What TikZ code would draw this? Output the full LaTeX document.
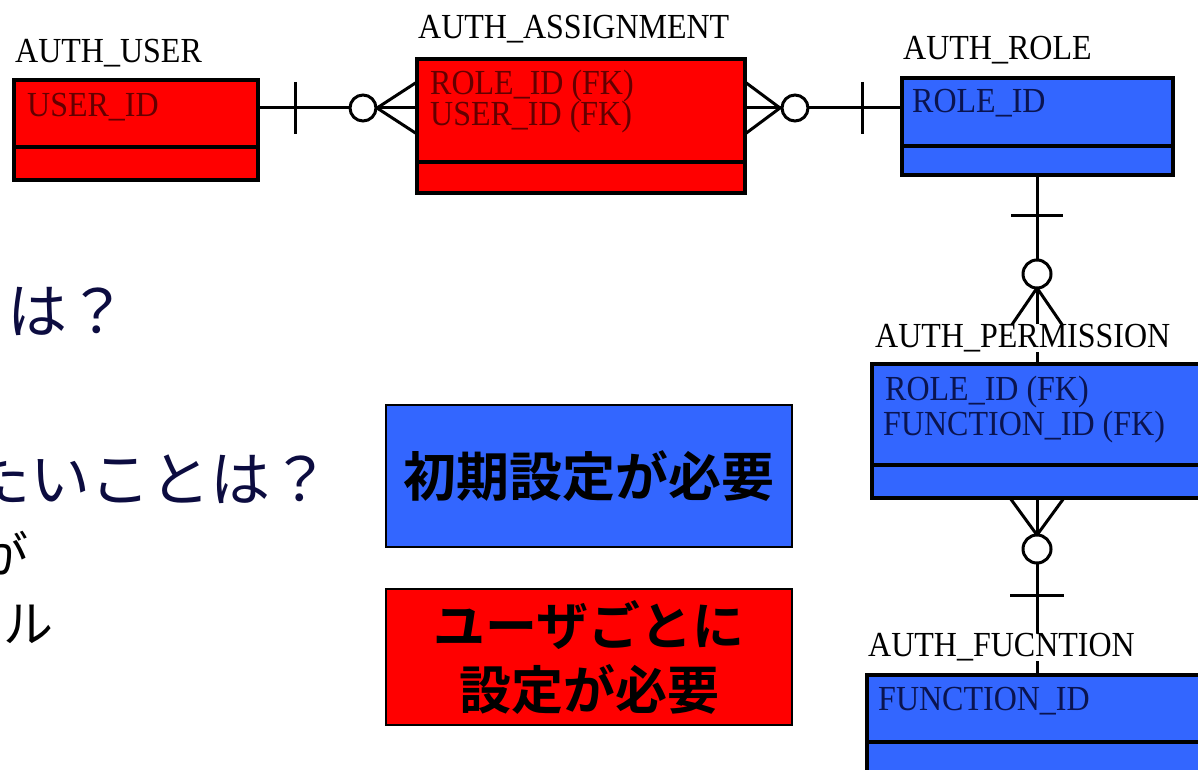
\documentclass[tikz,border=0pt]{standalone}
\usepackage{graphicx}
\usepackage{fontspec}
\setmainfont{Liberation Serif}
\newfontfamily\jp{Noto Sans CJK JP}[BoldFont={Noto Sans CJK JP Bold}]
\usetikzlibrary{calc}
\definecolor{erred}{RGB}{255,0,0}
\definecolor{erblue}{RGB}{51,102,255}
\definecolor{attred}{RGB}{100,0,0}
\definecolor{attblue}{RGB}{10,20,80}
\definecolor{navy}{RGB}{12,12,64}
\newcommand\ertxt{\fontsize{32}{34}\selectfont}
\newcommand\ers[1]{\scalebox{1}[1.1]{#1}}
\begin{document}
\begin{tikzpicture}[x=1pt,y=-1pt,
  ent/.style={draw=black, line width=3.5pt, rectangle, inner sep=0pt, outer sep=0pt, anchor=north west},
  entR/.style={ent, fill=erred},
  entB/.style={ent, fill=erblue},
  divl/.style={draw=black, line width=3.5pt},
  rel/.style={draw=black, line width=3pt},
  circ/.style={draw=black, line width=3pt, fill=white},
  lbl/.style={anchor=base west, inner sep=0pt, fill=white, font=\ertxt},
  attR/.style={anchor=base west, inner sep=0pt, font=\ertxt, text=attred},
  attB/.style={anchor=base west, inner sep=0pt, font=\ertxt, text=attblue},
  legend/.style={draw=black, line width=2pt, rectangle, inner sep=0pt},
  lefttxt/.style={inner sep=0pt, font=\jp\fontsize{60}{60}\selectfont, text=navy},
  smalltxt/.style={inner sep=0pt, font=\jp\fontsize{50}{50}\selectfont, text=black}
]
\useasboundingbox (0,0) rectangle (1198,770);
\clip (0,0) rectangle (1198,770);

% entity boxes
\node[entR, minimum width=244pt, minimum height=100pt] (user) at (14,80) {};
\node[entR, minimum width=328pt, minimum height=134pt] (assign) at (417,59) {};
\node[entB, minimum width=271pt, minimum height=97pt] (role) at (902,78) {};
\node[entB, minimum width=360pt, minimum height=134pt] (perm) at (872,364) {};
\node[entB, minimum width=360pt, minimum height=130pt] (func) at (867,675) {};

% dividers
\draw[divl] ([yshift=-67pt]user.north west) -- ([yshift=-67pt]user.north east);
\draw[divl] ([yshift=-103pt]assign.north west) -- ([yshift=-103pt]assign.north east);
\draw[divl] ([yshift=-68pt]role.north west) -- ([yshift=-68pt]role.north east);
\draw[divl] ([yshift=-101pt]perm.north west) -- ([yshift=-101pt]perm.north east);
\draw[divl] ([yshift=-67pt]func.north west) -- ([yshift=-67pt]func.north east);

% attributes
\node[attR] (a1) at (27,117) {\ers{USER\_ID}};
\node[attR] (a2) at (430,95) {\ers{ROLE\_ID (FK)}};
\node[attR] (a3) at (430,126) {\ers{USER\_ID (FK)}};
\node[attB] (a4) at (912,113) {\ers{ROLE\_ID}};
\node[attB] (a5) at (885,400) {\ers{ROLE\_ID (FK)}};
\node[attB] (a6) at (883,435) {\ers{FUNCTION\_ID (FK)}};
\node[attB] (a7) at (878,710) {\ers{FUNCTION\_ID}};

% relation USER - ASSIGNMENT
\coordinate (L1a) at ([yshift=-28pt]user.north east);
\coordinate (L1b) at ([yshift=-49pt]assign.north west);
\draw[rel] (L1a) -- (L1b);
\draw[rel] ([xshift=37pt,yshift=26pt]L1a) -- ([xshift=37pt,yshift=-26pt]L1a);
\draw[rel] ([yshift=26pt]L1b) -- ([xshift=-40pt]L1b) -- ([yshift=-26pt]L1b);
\draw[circ] ([xshift=-54pt]L1b) circle (13pt);

% relation ASSIGNMENT - ROLE
\coordinate (L2a) at ([yshift=-49pt]assign.north east);
\coordinate (L2b) at ([yshift=-30pt]role.north west);
\draw[rel] (L2a) -- (L2b);
\draw[rel] ([yshift=26pt]L2a) -- ([xshift=35pt]L2a) -- ([yshift=-26pt]L2a);
\draw[circ] ([xshift=50pt]L2a) circle (13pt);
\draw[rel] ([xshift=-40pt,yshift=26pt]L2b) -- ([xshift=-40pt,yshift=-26pt]L2b);

% relation ROLE - PERMISSION
\coordinate (L3a) at ([xshift=135pt]role.south west);
\coordinate (L3b) at ([xshift=165pt]perm.north west);
\draw[rel] (L3a) -- (L3b);
\draw[rel] ([xshift=-26pt,yshift=-40pt]L3a) -- ([xshift=26pt,yshift=-40pt]L3a);
\draw[rel] ([xshift=-26pt,yshift=38pt]L3b) -- ([yshift=-113pt]L3a) -- ([xshift=26pt,yshift=38pt]L3b);
\draw[circ] ([yshift=-99pt]L3a) circle (14pt);

% relation PERMISSION - FUNCTION
\coordinate (L4a) at ([xshift=165pt]perm.south west);
\coordinate (L4b) at ([xshift=170pt]func.north west);
\draw[rel] (L4a) -- (L4b);
\draw[rel] ([xshift=-27pt]L4a) -- ([yshift=-37pt]L4a) -- ([xshift=27pt]L4a);
\draw[circ] ([yshift=-51pt]L4a) circle (14pt);
\draw[rel] ([xshift=-27pt,yshift=-97pt]L4a) -- ([xshift=27pt,yshift=-97pt]L4a);

% entity labels
\node[lbl] (t1) at (15,63) {\ers{AUTH\_USER}};
\node[lbl] (t2) at (418,39) {\ers{AUTH\_ASSIGNMENT}};
\node[lbl] (t3) at (903,60) {\ers{AUTH\_ROLE}};
\node[lbl] (t4) at (875,347) {\ers{AUTH\_PERMISSION}};
\node[lbl] (t5) at (868,656) {\ers{AUTH\_FUCNTION}};

% legend boxes
\node[legend, fill=erblue, minimum width=406pt, minimum height=142pt,
      font=\jp\bfseries\fontsize{53}{64}\selectfont] (lb) at (589,476) {初期設定が必要};
\node[legend, fill=erred, minimum width=406pt, minimum height=136pt, align=center,
      font=\jp\bfseries\fontsize{52}{64}\selectfont] (lr) at (589,657) {ユーザごとに\\設定が必要};

% left texts (cut by the picture edge)
\node[lefttxt, anchor=base east] (q1) at (128,333) {は？};
\node[lefttxt, anchor=base east] (q2) at (331,501) {たいことは？};
\node[smalltxt, anchor=base east] (s1) at (29,573) {が};
\node[smalltxt, anchor=base west] (s2) at (3,642) {ル};
\end{tikzpicture}
\end{document}
